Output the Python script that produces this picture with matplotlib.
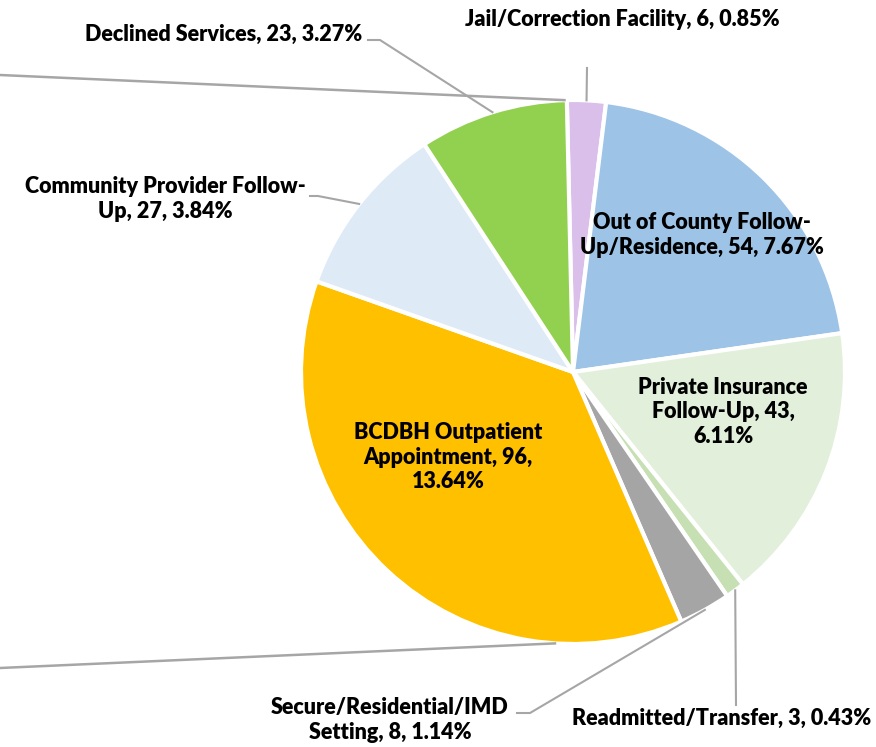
import numpy as np
import matplotlib.pyplot as plt

# slices of the secondary pie (counts) and their share of all 704 cases
categories = [
    "Jail/Correction Facility",
    "Out of County Follow-\nUp/Residence",
    "Private Insurance\nFollow-Up",
    "Readmitted/Transfer",
    "Secure/Residential/IMD\nSetting",
    "BCDBH Outpatient\nAppointment",
    "Community Provider Follow-\nUp",
    "Declined Services",
]
counts = [6, 54, 43, 3, 8, 96, 27, 23]
percents = [0.85, 7.67, 6.11, 0.43, 1.14, 13.64, 3.84, 3.27]
colors = ["#D9BFEA", "#9DC3E6", "#E2EFDA", "#C6E0B4", "#A5A5A5",
          "#FFC000", "#DEEBF7", "#92D050"]

W, H = 876, 747
CX, CY, R = 573, 372, 272
START = 91.3


def px(x, y):
    return x, H - y


fig = plt.figure(figsize=(W / 100, H / 100), dpi=100)
ax = fig.add_axes([0, 0, 1, 1])

wedges, _ = ax.pie(counts, colors=colors, startangle=START, counterclock=False,
                   center=px(CX, CY), radius=R,
                   wedgeprops=dict(edgecolor="white", linewidth=3))
ax.set_xlim(0, W)
ax.set_ylim(0, H)
ax.set_aspect("equal")
ax.axis("off")

font = dict(family=["Lato", "DejaVu Sans"], fontweight="heavy", fontsize=15.5,
            color="black", linespacing=1.2)


def label_text(i):
    name = categories[i]
    if i in (2, 5):
        return f"{name}, {counts[i]},\n{percents[i]:.2f}%"
    return f"{name}, {counts[i]}, {percents[i]:.2f}%"


def edge_point(w):
    ang = np.deg2rad((w.theta1 + w.theta2) / 2)
    return w.center[0] + w.r * np.cos(ang), w.center[1] + w.r * np.sin(ang)


# label centres (px) and leader elbows (px) for outside labels
label_pos = {0: (622, 20), 1: (702, 235), 2: (723, 412), 3: (722, 718),
             4: (390, 720), 5: (448, 457), 6: (165, 199), 7: (224, 34)}
elbows = {0: [(587, 68)], 3: [(736, 705)], 4: [(530, 713), (517, 713)],
          6: [(318, 196), (310, 196)], 7: [(380, 40), (368, 40)]}

lc = "#A6A6A6"
for i, pts in elbows.items():
    x0, y0 = edge_point(wedges[i])
    xs = [x0] + [px(*p)[0] for p in pts]
    ys = [y0] + [px(*p)[1] for p in pts]
    ax.plot(xs, ys, color=lc, lw=1.5, zorder=1)

# connector lines to the primary pie (off to the left)
for ang, x_end, y_end in [(91.8, 0, 75), (266.2, 0, 668)]:
    a = np.deg2rad(ang)
    ax.plot([px(x_end, y_end)[0], CX + R * np.cos(a)],
            [px(x_end, y_end)[1], H - CY + R * np.sin(a)],
            color=lc, lw=1.8, zorder=1)

for i in range(len(counts)):
    x, y = px(*label_pos[i])
    ax.text(x, y, label_text(i), ha="center", va="center", zorder=5, **font)

fig.savefig("out.png", dpi=100)
